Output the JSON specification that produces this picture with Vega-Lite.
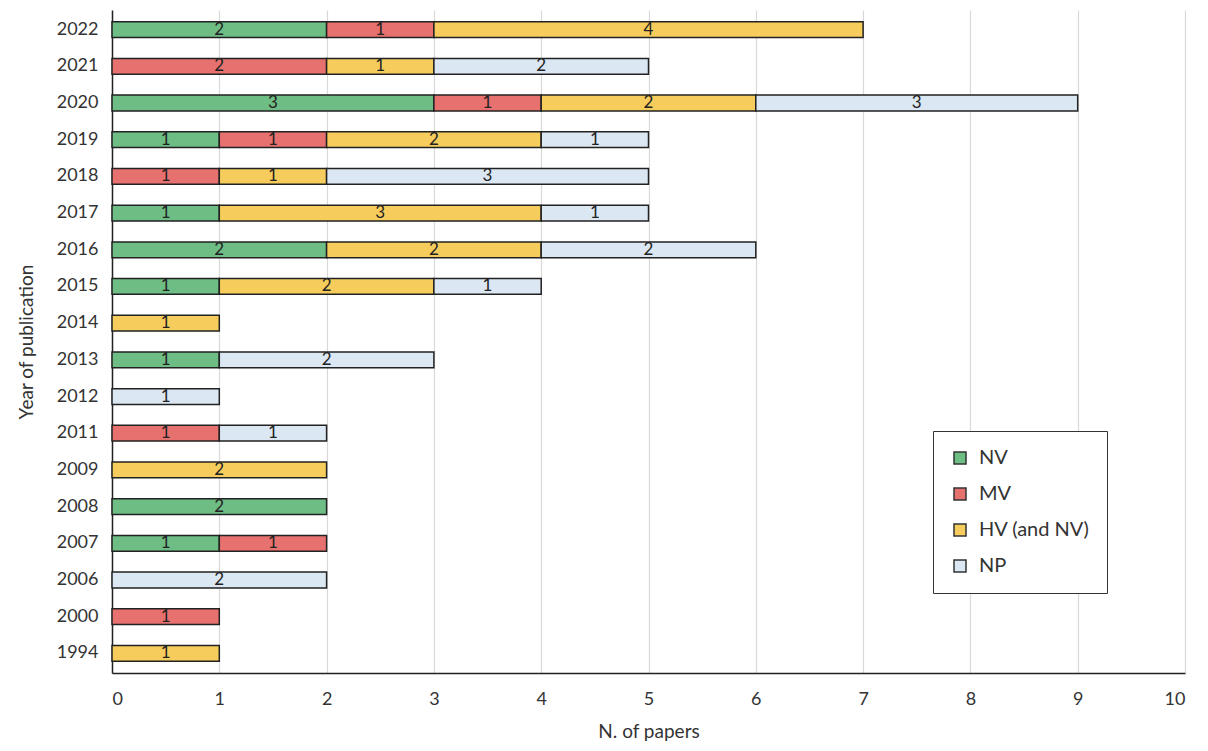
{
  "$schema": "https://vega.github.io/schema/vega-lite/v6.json",
  "width": 1073,
  "height": 663,
  "autosize": "none",
  "padding": {"left": 112, "top": 10, "right": 23, "bottom": 78},
  "background": "white",
  "config": {"font": "Lato", "view": {"stroke": null}},
  "data": {"values": [
    {"year": "2022", "cat": "NV", "n": 2}, {"year": "2022", "cat": "MV", "n": 1}, {"year": "2022", "cat": "HV (and NV)", "n": 4},
    {"year": "2021", "cat": "MV", "n": 2}, {"year": "2021", "cat": "HV (and NV)", "n": 1}, {"year": "2021", "cat": "NP", "n": 2},
    {"year": "2020", "cat": "NV", "n": 3}, {"year": "2020", "cat": "MV", "n": 1}, {"year": "2020", "cat": "HV (and NV)", "n": 2}, {"year": "2020", "cat": "NP", "n": 3},
    {"year": "2019", "cat": "NV", "n": 1}, {"year": "2019", "cat": "MV", "n": 1}, {"year": "2019", "cat": "HV (and NV)", "n": 2}, {"year": "2019", "cat": "NP", "n": 1},
    {"year": "2018", "cat": "MV", "n": 1}, {"year": "2018", "cat": "HV (and NV)", "n": 1}, {"year": "2018", "cat": "NP", "n": 3},
    {"year": "2017", "cat": "NV", "n": 1}, {"year": "2017", "cat": "HV (and NV)", "n": 3}, {"year": "2017", "cat": "NP", "n": 1},
    {"year": "2016", "cat": "NV", "n": 2}, {"year": "2016", "cat": "HV (and NV)", "n": 2}, {"year": "2016", "cat": "NP", "n": 2},
    {"year": "2015", "cat": "NV", "n": 1}, {"year": "2015", "cat": "HV (and NV)", "n": 2}, {"year": "2015", "cat": "NP", "n": 1},
    {"year": "2014", "cat": "HV (and NV)", "n": 1},
    {"year": "2013", "cat": "NV", "n": 1}, {"year": "2013", "cat": "NP", "n": 2},
    {"year": "2012", "cat": "NP", "n": 1},
    {"year": "2011", "cat": "MV", "n": 1}, {"year": "2011", "cat": "NP", "n": 1},
    {"year": "2009", "cat": "HV (and NV)", "n": 2},
    {"year": "2008", "cat": "NV", "n": 2},
    {"year": "2007", "cat": "NV", "n": 1}, {"year": "2007", "cat": "MV", "n": 1},
    {"year": "2006", "cat": "NP", "n": 2},
    {"year": "2000", "cat": "MV", "n": 1},
    {"year": "1994", "cat": "HV (and NV)", "n": 1}
  ]},
  "transform": [
    {"calculate": "indexof(['NV','MV','HV (and NV)','NP'], datum.cat)", "as": "k"},
    {"stack": "n", "groupby": ["year"], "sort": [{"field": "k", "order": "ascending"}], "as": ["x0", "x1"]},
    {"calculate": "(datum.x0 + datum.x1) / 2", "as": "xm"}
  ],
  "encoding": {
    "y": {
      "field": "year", "type": "ordinal", "sort": "descending",
      "scale": {"paddingInner": 0.57, "paddingOuter": 0.32},
      "axis": {
        "title": "Year of publication", "titleFontSize": 19, "titleFontWeight": "normal", "titleColor": "#333", "titlePadding": 20,
        "labelFontSize": 18, "labelColor": "#333", "labelPadding": 14, "ticks": false,
        "domainColor": "#222", "domainWidth": 1.5, "grid": false
      }
    }
  },
  "layer": [
    {
      "mark": {"type": "bar", "stroke": "#222", "strokeWidth": 1.5},
      "encoding": {
        "x": {
          "field": "x0", "type": "quantitative", "scale": {"domain": [0, 10]},
          "axis": {
            "title": "N. of papers", "titleFontSize": 19, "titleFontWeight": "normal", "titleColor": "#333", "titlePadding": 14,
            "labelFontSize": 18, "labelColor": "#333", "labelPadding": 17, "ticks": false, "tickCount": 10,
            "domainColor": "#222", "domainWidth": 1.5, "grid": true, "gridColor": "#d9d9d9", "gridWidth": 1.2
          }
        },
        "x2": {"field": "x1"},
        "color": {
          "field": "cat", "type": "nominal",
          "scale": {"domain": ["NV", "MV", "HV (and NV)", "NP"], "range": ["#6dbd84", "#e6716f", "#f6cd5c", "#dbe7f3"]},
          "legend": {
            "title": null, "orient": "none", "legendX": 821, "legendY": 421,
            "strokeColor": "#333", "fillColor": "white", "padding": 17,
            "symbolType": "square", "symbolSize": 144, "symbolStrokeColor": "#333", "symbolStrokeWidth": 1.5, "symbolOpacity": 1,
            "labelFontSize": 20, "labelColor": "#333", "labelOffset": 9, "rowPadding": 16
          }
        }
      }
    },
    {
      "mark": {"type": "text", "fontSize": 17, "color": "#222"},
      "encoding": {
        "x": {"field": "xm", "type": "quantitative"},
        "text": {"field": "n", "type": "quantitative"}
      }
    }
  ]
}
